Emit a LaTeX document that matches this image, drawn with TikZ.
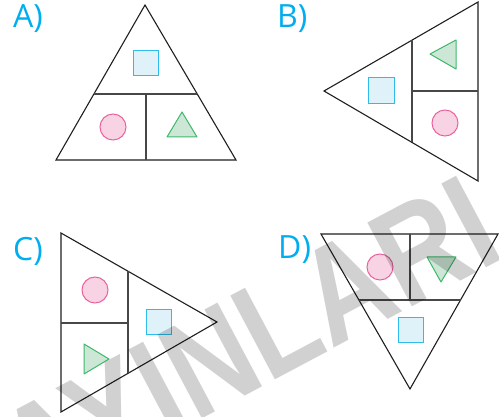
\documentclass[tikz,border=0pt]{standalone}
\usepackage{fontspec}
\setmainfont{Open Sans}
\newfontfamily\wmfont{Liberation Sans}
\usepackage{tikz}
\usetikzlibrary{positioning}

\definecolor{lblblue}{HTML}{00AEEF}
\definecolor{sqline}{HTML}{2DBCEB}
\definecolor{sqfill}{HTML}{DFF2FA}
\definecolor{pkline}{HTML}{E9649E}
\definecolor{pkfill}{HTML}{F8D3E3}
\definecolor{grline}{HTML}{3DB86A}
\definecolor{grfill}{HTML}{CDE7D6}

\begin{document}
\begin{tikzpicture}[x=1pt, y=-1pt,
    frame/.style={draw=black!88, line width=1.1pt},
    divider/.style={draw=black!72, line width=1.4pt},
    sq/.style={draw=sqline, fill=sqfill, line width=1pt},
    disc/.style={draw=pkline, fill=pkfill, line width=1pt},
    tri/.style={draw=grline, fill=grfill, line width=1pt, line join=round},
    letter/.style={text=lblblue, font=\fontsize{32}{32}\selectfont, inner sep=0pt, anchor=base west},
    watermark/.style={text=black, text opacity=0.18, font=\wmfont\bfseries\fontsize{138}{138}\selectfont, inner sep=0pt}
]
\useasboundingbox (0,0) rectangle (499,417);

% Option A
\node[letter] (la) at (13,28) {A)};
\draw[frame] (145,5) -- (236,160) -- (56,160) -- cycle;
\draw[divider] (94,94) -- (197,94) (146,94) -- (146,160);
\draw[sq] (133,51) rectangle (158,76);
\draw[disc] (113,127) circle (13pt);
\draw[tri] (182,112) -- (197,137) -- (167,137) -- cycle;

% Option B
\node[letter] (lb) at (277,28) {B)};
\draw[frame] (324,91) -- (478,2) -- (478,181) -- cycle;
\draw[divider] (412,40) -- (412,142) (412,91) -- (478,91);
\draw[sq] (368,78) rectangle (394,104);
\draw[tri] (430,54) -- (456,40) -- (456,69) -- cycle;
\draw[disc] (445,123) circle (13pt);

% Option C
\node[letter] (lc) at (13,261) {C)};
\draw[frame] (61,233) -- (217,322) -- (61,412) -- cycle;
\draw[divider] (128,271) -- (128,373) (61,323) -- (128,323);
\draw[disc] (95,290) circle (13pt);
\draw[sq] (146,310) rectangle (171,335);
\draw[tri] (84,344) -- (109,359) -- (84,374) -- cycle;

% Option D
\node[letter] (ld) at (278,259) {D)};
\draw[frame] (321,234) -- (498,234) -- (410,389) -- cycle;
\draw[divider] (359,300) -- (461,300) (410,234) -- (410,300);
\draw[disc] (380,267) circle (13pt);
\draw[tri] (427,257) -- (456,257) -- (441,282) -- cycle;
\draw[sq] (398,318) rectangle (423,343);

% Watermark
\begin{scope}
  \clip (0,0) rectangle (499,417);
  \node[watermark, rotate=28] (wm) at (219,356) {\scalebox{0.84}[1]{YAYINLARI}};
\end{scope}

\end{tikzpicture}
\end{document}
